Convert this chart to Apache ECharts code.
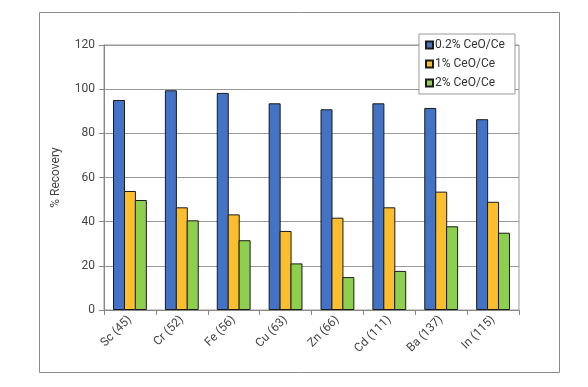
<!DOCTYPE html>
<html>
<head>
<meta charset="utf-8">
<script src="https://cdn.jsdelivr.net/npm/echarts@6/dist/echarts.min.js"></script>
<style>html,body{margin:0;padding:0;background:#fff;}#c{width:588px;height:387px;}</style>
</head>
<body>
<div id="c"></div>
<script>
const categories = ['Sc (45)', 'Cr (52)', 'Fe (56)', 'Cu (63)', 'Zn (66)', 'Cd (111)', 'Ba (137)', 'In (115)'];
const seriesNames = ['0.2% CeO/Ce', '1% CeO/Ce', '2% CeO/Ce'];
const ceo02 = [95.1, 99.5, 98.3, 93.6, 90.9, 93.6, 91.5, 86.4];
const ceo1 = [53.9, 46.5, 43.3, 35.8, 41.8, 46.5, 53.6, 49.0];
const ceo2 = [49.8, 40.6, 31.6, 21.1, 14.9, 17.7, 37.9, 35.0];
const yTicks = [0, 20, 40, 60, 80, 100, 120];

const colors = ['#4472C4', '#FCBF2B', '#8FCF50'];
const chart = echarts.init(document.getElementById('c'), null, {renderer: 'canvas'});
const lbl = {color: '#444', fontFamily: 'Roboto', fontSize: 12};
chart.setOption({
  animation: false,
  textStyle: {fontFamily: 'Roboto'},
  graphic: [{
    type: 'rect', shape: {x: 39.5, y: 12.5, width: 520, height: 360},
    style: {fill: 'none', stroke: '#8a8a8a', lineWidth: 1}, z: -10
  }],
  grid: {left: 104, right: 69, top: 45, bottom: 77, show: true, borderColor: '#999', borderWidth: 1},
  legend: {
    orient: 'vertical', left: 419, top: 34,
    data: seriesNames,
    itemWidth: 7, itemHeight: 7, itemGap: 7,
    padding: [5, 10, 5, 6],
    borderColor: '#999', borderWidth: 1, backgroundColor: '#fff',
    textStyle: {fontFamily: 'Roboto', fontSize: 12, color: '#333', padding: [0, 0, 0, -3]},
    icon: 'rect'
  },
  xAxis: {
    type: 'category', data: categories,
    axisLine: {lineStyle: {color: '#888'}},
    axisTick: {show: true, length: 5, lineStyle: {color: '#888'}},
    axisLabel: Object.assign({rotate: 45, margin: 8}, lbl)
  },
  yAxis: {
    type: 'value', min: 0, max: 120, interval: 20,
    name: '% Recovery', nameLocation: 'middle', nameGap: 42,
    nameTextStyle: {fontFamily: 'Roboto', fontSize: 12, color: '#444'},
    axisLine: {show: true, lineStyle: {color: '#888'}},
    axisTick: {show: true, length: 5, lineStyle: {color: '#888'}},
    axisLabel: Object.assign({margin: 9, formatter: v => yTicks.includes(v) ? String(v) : ''}, lbl),
    splitLine: {lineStyle: {color: '#999'}}
  },
  series: [ceo02, ceo1, ceo2].map((d, i) => ({
    name: seriesNames[i], type: 'bar', data: d,
    barWidth: 12, barGap: '-9%',
    itemStyle: {color: colors[i], borderColor: '#1a1a1a', borderWidth: 1}
  }))
});
</script>
</body>
</html>
